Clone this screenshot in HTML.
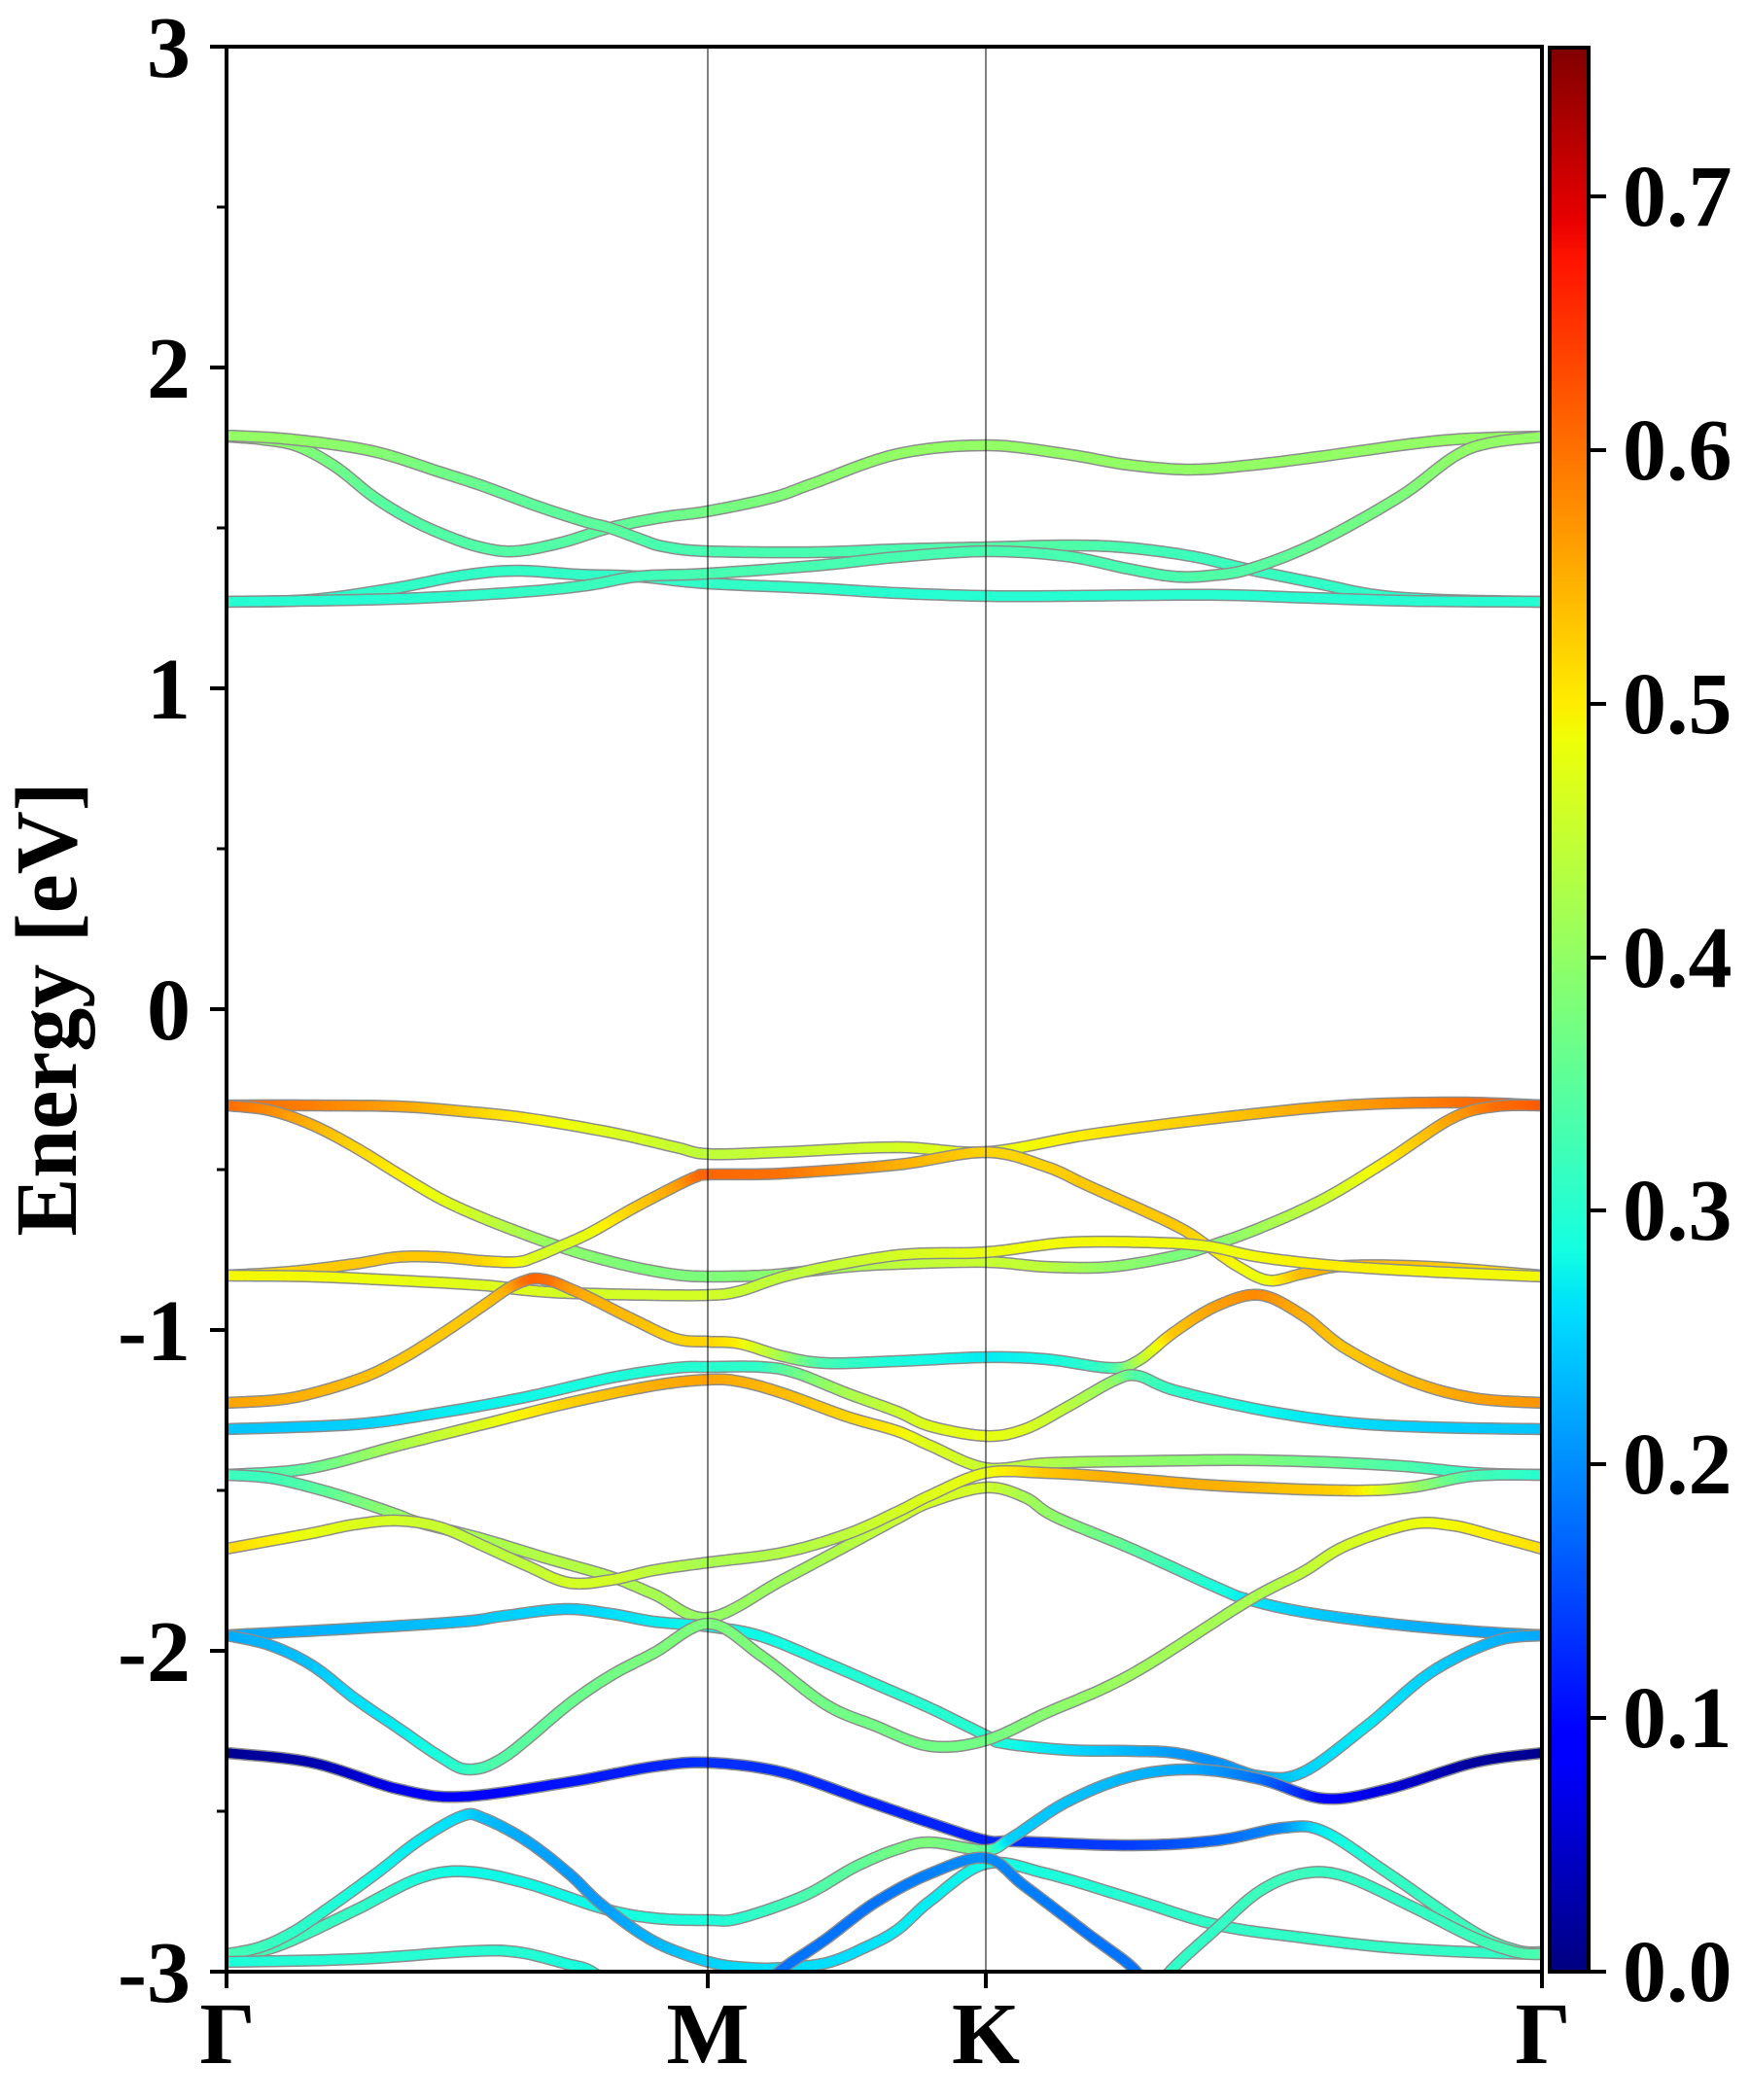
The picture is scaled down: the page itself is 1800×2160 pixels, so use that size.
<!DOCTYPE html>
<html>
<head>
<meta charset="utf-8">
<style>
html,body{margin:0;padding:0;background:#fff;}
svg{display:block;}
text{font-family:"Liberation Serif","Times New Roman",serif;font-weight:bold;font-size:90px;fill:#000;}
</style>
</head>
<body>
<svg id="svg" xmlns="http://www.w3.org/2000/svg" width="1800" height="2160" viewBox="0 0 1800 2160">
<defs>
<clipPath id="pc"><rect x="233" y="48" width="1353" height="1980"/></clipPath>
<linearGradient id="jet" x1="0" y1="1" x2="0" y2="0">
<stop offset="0" stop-color="#000080"/>
<stop offset="0.11" stop-color="#0000ff"/>
<stop offset="0.125" stop-color="#0000ff"/>
<stop offset="0.34" stop-color="#00dbff"/>
<stop offset="0.35" stop-color="#00e5f7"/>
<stop offset="0.375" stop-color="#14ffe2"/>
<stop offset="0.64" stop-color="#eeff08"/>
<stop offset="0.65" stop-color="#f7f500"/>
<stop offset="0.66" stop-color="#ffec00"/>
<stop offset="0.89" stop-color="#ff1300"/>
<stop offset="0.91" stop-color="#e80000"/>
<stop offset="1" stop-color="#800000"/>
</linearGradient>
</defs>
<rect x="0" y="0" width="1800" height="2160" fill="#fff"/>
<g id="bands" clip-path="url(#pc)"></g>
<line x1="728" y1="48" x2="728" y2="2028" stroke="#000" stroke-opacity="0.5" stroke-width="2"/>
<line x1="1014" y1="48" x2="1014" y2="2028" stroke="#000" stroke-opacity="0.5" stroke-width="2"/>
<rect x="233" y="48" width="1353" height="1980" fill="none" stroke="#000" stroke-width="4"/>
<g stroke="#000" stroke-width="4">
<line x1="216" y1="48" x2="233" y2="48"/>
<line x1="216" y1="378" x2="233" y2="378"/>
<line x1="216" y1="708" x2="233" y2="708"/>
<line x1="216" y1="1038" x2="233" y2="1038"/>
<line x1="216" y1="1368" x2="233" y2="1368"/>
<line x1="216" y1="1698" x2="233" y2="1698"/>
<line x1="216" y1="2028" x2="233" y2="2028"/>
</g>
<g stroke="#000" stroke-width="3">
<line x1="223" y1="213" x2="233" y2="213"/>
<line x1="223" y1="543" x2="233" y2="543"/>
<line x1="223" y1="873" x2="233" y2="873"/>
<line x1="223" y1="1203" x2="233" y2="1203"/>
<line x1="223" y1="1533" x2="233" y2="1533"/>
<line x1="223" y1="1863" x2="233" y2="1863"/>
</g>
<g stroke="#000" stroke-width="4">
<line x1="233" y1="2028" x2="233" y2="2045"/>
<line x1="728" y1="2028" x2="728" y2="2045"/>
<line x1="1014" y1="2028" x2="1014" y2="2045"/>
<line x1="1586" y1="2028" x2="1586" y2="2045"/>
</g>
<g text-anchor="end">
<text x="196" y="79">3</text>
<text x="196" y="409">2</text>
<text x="196" y="739">1</text>
<text x="196" y="1069">0</text>
<text x="196" y="1399">-1</text>
<text x="196" y="1729">-2</text>
<text x="196" y="2059">-3</text>
</g>
<g text-anchor="middle">
<text x="234" y="2122">Γ</text>
<text x="728" y="2122">M</text>
<text x="1014" y="2122">K</text>
<text x="1587" y="2122">Γ</text>
</g>
<text transform="translate(78,1038) rotate(-90)" text-anchor="middle">Energy [eV]</text>
<rect x="1594" y="49" width="40" height="1979" fill="url(#jet)" stroke="#000" stroke-width="4"/>
<g stroke="#000" stroke-width="4">
<line x1="1636" y1="2028" x2="1652" y2="2028"/>
<line x1="1636" y1="1767" x2="1652" y2="1767"/>
<line x1="1636" y1="1506" x2="1652" y2="1506"/>
<line x1="1636" y1="1245" x2="1652" y2="1245"/>
<line x1="1636" y1="985" x2="1652" y2="985"/>
<line x1="1636" y1="724" x2="1652" y2="724"/>
<line x1="1636" y1="463" x2="1652" y2="463"/>
<line x1="1636" y1="202" x2="1652" y2="202"/>
</g>
<g>
<text x="1669" y="2058">0.0</text>
<text x="1669" y="1797">0.1</text>
<text x="1669" y="1536">0.2</text>
<text x="1669" y="1275">0.3</text>
<text x="1669" y="1015">0.4</text>
<text x="1669" y="754">0.5</text>
<text x="1669" y="493">0.6</text>
<text x="1669" y="232">0.7</text>
</g>
</svg>
<script>
(function(){
var VMAX=0.7586;
function lerp(t,xs,ys){
  if(t<=xs[0])return ys[0];
  for(var i=1;i<xs.length;i++){ if(t<=xs[i]){var f=(t-xs[i-1])/(xs[i]-xs[i-1]);return ys[i-1]+f*(ys[i]-ys[i-1]);} }
  return ys[ys.length-1];
}
function jet(v){
  var t=Math.max(0,Math.min(1,v/VMAX));
  var r=lerp(t,[0,.35,.66,.89,1],[0,0,1,1,.5]);
  var g=lerp(t,[0,.125,.375,.64,.91,1],[0,0,1,1,0,0]);
  var b=lerp(t,[0,.11,.34,.65,1],[.5,1,1,0,0]);
  return 'rgb('+Math.round(r*255)+','+Math.round(g*255)+','+Math.round(b*255)+')';
}
function smooth(p){
  var out=[],n=p.length,N=12;
  for(var i=0;i<n-1;i++){
    var p0=p[Math.max(i-1,0)],p1=p[i],p2=p[i+1],p3=p[Math.min(i+2,n-1)];
    for(var k=0;k<N;k++){
      var t=k/N,t2=t*t,t3=t2*t;
      var f=function(a,b,c,d){return 0.5*((2*b)+(-a+c)*t+(2*a-5*b+4*c-d)*t2+(-a+3*b-3*c+d)*t3);};
      out.push([f(p0[0],p1[0],p2[0],p3[0]),f(p0[1],p1[1],p2[1],p3[1]),p1[2]+(p2[2]-p1[2])*t]);
    }
  }
  out.push(p[n-1]);
  return out;
}
var bands=[
[[233,449,.40],[270,452,.40],[306,459,.39],[345,480,.37],[383,510,.35],[420,533,.34],[459,551,.34],[495,563,.34],[530,567,.34],[578,558,.34],[627,543,.35],[682,532,.36],[727,526,.37],[794,512,.38],[837,497,.39],[923,467,.40],[1014,458,.40],[1096,467,.40],[1160,478,.40],[1225,483,.40],[1290,478,.40],[1355,470,.40],[1484,453,.40],[1586,449,.40]],
[[233,448,.40],[300,452,.40],[383,464,.39],[454,486,.37],[497,500,.36],[551,520,.35],[600,536,.35],[627,543,.35],[660,555,.34],[682,562,.33],[727,567,.33],[837,568,.33],[923,565,.33],[1014,563,.34],[1096,561,.34],[1156,563,.33],[1225,572,.32],[1286,586,.32],[1355,600,.31],[1415,612,.31],[1484,617,.30],[1586,619,.30]],
[[233,619,.30],[319,617,.30],[406,605,.31],[475,592,.31],[531,587,.31],[595,591,.31],[656,593,.31],[727,600,.31],[837,605,.31],[923,610,.30],[1014,613,.30],[1096,613,.30],[1182,612,.30],[1260,612,.30],[1350,615,.30],[1450,618,.30],[1586,619,.30]],
[[233,619,.30],[406,616,.30],[535,609,.31],[604,602,.32],[656,593,.32],[727,590,.33],[837,582,.33],[923,573,.33],[1014,567,.33],[1096,572,.33],[1160,585,.33],[1208,593,.33],[1245,592,.34],[1286,585,.34],[1355,558,.36],[1441,510,.38],[1510,462,.40],[1586,449,.40]],
[[233,1137,.61],[320,1137,.59],[409,1138,.56],[475,1143,.53],[541,1150,.50],[629,1165,.47],[695,1180,.45],[729,1187,.44],[805,1185,.45],[923,1180,.46],[1014,1185,.48],[1120,1167,.50],[1252,1150,.53],[1384,1137,.56],[1500,1134,.60],[1586,1137,.62]],
[[233,1137,.61],[277,1142,.58],[321,1157,.55],[365,1180,.52],[409,1207,.50],[453,1233,.48],[497,1253,.45],[541,1270,.42],[572,1281,.40],[607,1292,.39],[651,1303,.38],[695,1311,.38],[729,1313,.38],[783,1312,.39],[818,1309,.40],[871,1303,.42],[923,1300,.44],[1014,1298,.45],[1076,1303,.44],[1142,1303,.40],[1208,1292,.38],[1243,1282,.38],[1296,1263,.41],[1362,1233,.45],[1428,1193,.50],[1494,1150,.56],[1538,1138,.60],[1586,1137,.62]],
[[233,1312,.50],[299,1308,.52],[365,1300,.53],[409,1293,.53],[453,1293,.53],[497,1297,.52],[532,1298,.49],[550,1293,.47],[576,1282,.46],[607,1268,.48],[651,1243,.52],[695,1220,.56],[717,1210,.60],[729,1208,.61],[805,1207,.60],[923,1198,.55],[1014,1185,.52],[1076,1200,.52],[1120,1220,.53],[1208,1260,.53],[1243,1282,.51],[1274,1303,.49],[1305,1317,.48],[1340,1310,.54],[1384,1302,.55],[1472,1303,.53],[1586,1312,.50]],
[[233,1312,.49],[321,1313,.49],[409,1317,.48],[497,1322,.47],[541,1327,.47],[585,1330,.46],[673,1332,.46],[729,1332,.46],[761,1328,.45],[818,1310,.44],[923,1291,.46],[1014,1288,.48],[1098,1278,.49],[1186,1278,.49],[1243,1282,.48],[1296,1293,.49],[1375,1302,.50],[1472,1308,.49],[1586,1313,.49]],
[[233,1443,.56],[299,1438,.55],[365,1420,.54],[409,1400,.53],[453,1373,.53],[497,1343,.53],[523,1325,.55],[541,1317,.60],[552,1315,.61],[568,1318,.60],[585,1325,.57],[607,1335,.55],[651,1357,.54],[695,1377,.52],[729,1380,.52],[761,1382,.50],[805,1395,.42],[849,1402,.33],[923,1400,.29],[1014,1396,.27],[1076,1398,.28],[1142,1407,.32],[1170,1400,.42],[1208,1370,.53],[1252,1343,.56],[1296,1332,.58],[1340,1353,.55],[1384,1387,.53],[1450,1420,.54],[1516,1438,.56],[1586,1443,.57]],
[[233,1470,.24],[365,1465,.25],[453,1453,.27],[541,1437,.28],[629,1417,.29],[695,1407,.30],[729,1406,.30],[783,1406,.31],[818,1412,.36],[871,1433,.42],[923,1452,.45],[957,1467,.47],[1014,1477,.48],[1054,1470,.47],[1098,1447,.44],[1146,1420,.40],[1170,1415,.34],[1208,1430,.31],[1296,1450,.28],[1384,1463,.26],[1472,1468,.25],[1586,1470,.24]],
[[233,1517,.32],[299,1513,.34],[343,1505,.37],[409,1487,.42],[497,1465,.47],[585,1443,.52],[673,1425,.55],[729,1419,.56],[761,1421,.55],[805,1433,.54],[871,1457,.52],[923,1472,.50],[957,1487,.47],[1014,1510,.45],[1076,1505,.43],[1164,1503,.40],[1296,1502,.38],[1428,1507,.34],[1516,1515,.31],[1586,1517,.30]],
[[233,1517,.32],[277,1520,.32],[321,1530,.34],[365,1543,.37],[409,1558,.40],[431,1566,.41],[497,1583,.42],[563,1603,.43],[629,1622,.43],[673,1640,.42],[729,1664,.40],[805,1625,.41],[871,1590,.43],[923,1562,.45],[957,1545,.46],[1014,1530,.46],[1054,1540,.42],[1085,1560,.40],[1164,1593,.35],[1252,1633,.29],[1283,1645,.27],[1340,1658,.25],[1428,1670,.23],[1516,1678,.22],[1586,1682,.22]],
[[233,1593,.52],[277,1585,.50],[321,1577,.48],[365,1568,.47],[409,1564,.46],[453,1571,.45],[497,1590,.44],[541,1610,.44],[585,1628,.46],[629,1625,.46],[673,1615,.44],[729,1607,.42],[805,1597,.43],[871,1578,.44],[923,1555,.46],[957,1538,.47],[1014,1515,.48],[1076,1515,.53],[1142,1519,.55],[1252,1528,.55],[1384,1533,.52],[1450,1530,.42],[1516,1518,.33],[1586,1517,.30]],
[[233,1682,.22],[365,1675,.23],[475,1668,.24],[519,1662,.25],[581,1655,.25],[629,1660,.26],[673,1668,.27],[729,1673,.28],[783,1683,.28],[849,1710,.29],[900,1732,.30],[957,1757,.30],[1014,1785,.30],[1032,1793,.29],[1098,1800,.26],[1164,1801,.23],[1208,1803,.21],[1252,1813,.20],[1296,1827,.22],[1340,1823,.25],[1406,1775,.27],[1472,1720,.25],[1538,1688,.23],[1586,1682,.22]],
[[233,1682,.22],[277,1692,.23],[321,1713,.24],[365,1747,.26],[409,1777,.27],[453,1807,.29],[482,1820,.31],[519,1807,.34],[585,1753,.36],[629,1723,.37],[673,1700,.38],[729,1670,.38],[783,1703,.38],[849,1753,.37],[900,1775,.37],[957,1796,.37],[1014,1790,.37],[1076,1762,.39],[1164,1722,.41],[1283,1647,.42],[1340,1617,.44],[1384,1590,.46],[1450,1568,.48],[1494,1569,.49],[1538,1580,.50],[1586,1593,.51]],
[[233,1803,.01],[321,1813,.03],[409,1840,.07],[475,1848,.09],[585,1833,.11],[673,1817,.12],[729,1813,.13],[805,1823,.13],[893,1853,.12],[957,1875,.12],[1014,1893,.12],[1045,1894,.13],[1164,1898,.14],[1252,1893,.17],[1320,1880,.20],[1362,1884,.27],[1428,1927,.31],[1516,1987,.32],[1560,2006,.33],[1586,2008,.33]],
[[233,2012,.34],[267,2007,.33],[300,1996,.32],[367,1964,.31],[431,1932,.29],[479,1925,.28],[541,1937,.28],[620,1963,.28],[673,1973,.29],[729,1975,.29],[761,1973,.30],[827,1950,.33],[880,1920,.35],[923,1902,.37],[957,1895,.38],[1014,1903,.36],[1041,1890,.25],[1098,1853,.24],[1164,1827,.23],[1230,1820,.22],[1296,1830,.18],[1362,1850,.10],[1428,1840,.06],[1516,1813,.02],[1586,1803,.01]],
[[233,2010,.33],[267,2003,.32],[300,1988,.31],[333,1966,.30],[387,1927,.28],[431,1893,.27],[475,1868,.26],[497,1870,.24],[541,1893,.22],[585,1927,.21],[620,1960,.21],[673,1997,.23],[729,2018,.25],[770,2024,.26],[805,2024,.26],[850,2019,.26],[890,2003,.26],[923,1985,.27],[957,1955,.27],[1014,1917,.28],[1076,1927,.29],[1164,1953,.30],[1252,1980,.31],[1340,1993,.31],[1428,2003,.31],[1516,2008,.31],[1586,2010,.31]],
[[785,2045,.18],[805,2025,.18],[849,1995,.18],[900,1957,.18],[957,1927,.19],[1014,1911,.20],[1054,1940,.19],[1120,1990,.18],[1164,2023,.18],[1180,2045,.18]],
[[233,2018,.29],[367,2015,.30],[483,2007,.30],[533,2008,.30],[583,2020,.29],[607,2027,.29],[630,2045,.29]],
[[1190,2045,.31],[1208,2023,.31],[1252,1983,.31],[1296,1945,.32],[1340,1927,.32],[1384,1930,.31],[1450,1960,.31],[1516,1993,.32],[1560,2008,.33],[1586,2010,.33]]
];
var g=document.getElementById('bands');
var html='';
for(var b=0;b<bands.length;b++){
  var s=smooth(bands[b]);
  var d='M'+s[0][0].toFixed(1)+' '+s[0][1].toFixed(1);
  for(var j=1;j<s.length;j++) d+='L'+s[j][0].toFixed(1)+' '+s[j][1].toFixed(1);
  html+='<path d="'+d+'" fill="none" stroke="#8c8c8c" stroke-width="12.5" stroke-linejoin="round"/>';
  for(var j=0;j<s.length-1;j++){
    var c=jet((s[j][2]+s[j+1][2])/2);
    html+='<line x1="'+s[j][0].toFixed(1)+'" y1="'+s[j][1].toFixed(1)+'" x2="'+s[j+1][0].toFixed(1)+'" y2="'+s[j+1][1].toFixed(1)+'" stroke="'+c+'" stroke-width="9.5" stroke-linecap="round"/>';
  }
}
g.innerHTML=html;
})();
</script>
</body>
</html>
